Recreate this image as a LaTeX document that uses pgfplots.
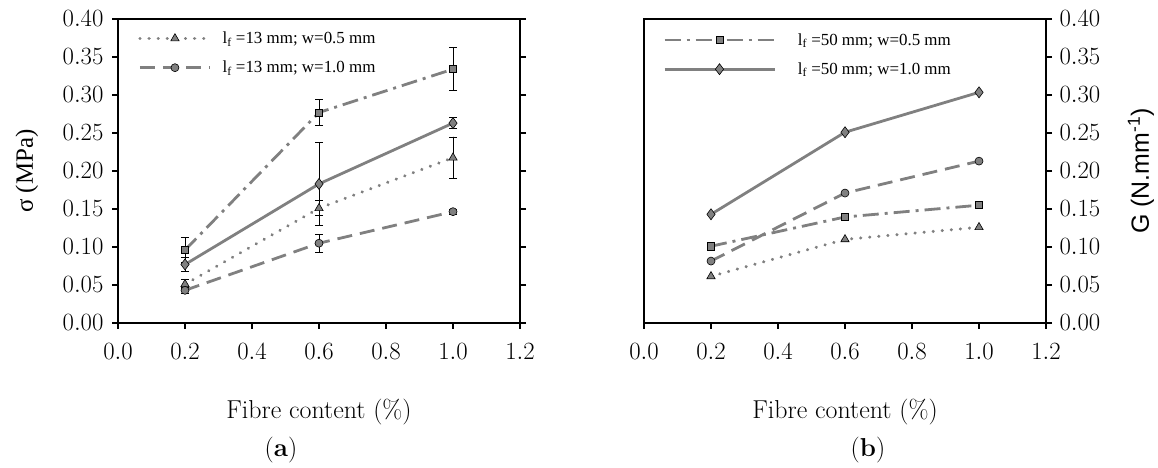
\documentclass[border=0pt]{standalone}
\usepackage{fontspec}
\usepackage{pgfplots}
\pgfplotsset{compat=1.18}
\newfontfamily\lsans{Liberation Sans}
\newfontfamily\lserif{Liberation Serif}
\definecolor{lg}{RGB}{128,128,128}
\definecolor{mk}{RGB}{128,128,128}

\pgfplotsset{
 base/.style={
  scale only axis, width=402bp, height=304bp,
  xmin=0, xmax=1.2, ymin=0, ymax=0.4,
  xtick={0,0.2,0.4,0.6,0.8,1.0,1.2},
  ytick={0,0.05,0.10,0.15,0.20,0.25,0.30,0.35,0.40},
  tick align=outside, major tick length=6bp,
  xtick pos=bottom,
  axis line style={line width=1.5bp},
  every tick/.style={black, line width=1.2bp},
  tick label style={font=\fontsize{23}{27}\selectfont},
  xticklabel style={yshift=-11bp, /pgf/number format/fixed, /pgf/number format/fixed zerofill, /pgf/number format/precision=1},
  yticklabel style={/pgf/number format/fixed, /pgf/number format/fixed zerofill, /pgf/number format/precision=2},
  scaled y ticks=false, scaled x ticks=false,
  xlabel style={at={(axis description cs:0.5,0)}, anchor=center, yshift=-89bp, font=\fontsize{26}{30}\selectfont},
  legend style={draw=none, fill=none, font=\lserif\fontsize{17}{20}\selectfont, anchor=north west, inner sep=0pt, row sep=12bp},
  legend cell align=left,
  clip=false,
 },
 ser/.style={line width=2.8bp, lg, mark options={solid, fill=mk, draw=black, line width=0.6bp}},
 sq/.style={ser, mark=square*, mark size=3.6bp, dash pattern=on 16bp off 6bp on 3bp off 6bp},
 dm/.style={ser, mark=diamond*, mark size=5.5bp, solid},
 ci/.style={ser, mark=*, mark size=4bp, dash pattern=on 15bp off 8bp},
 tr/.style={ser, line width=3.3bp, mark=triangle*, mark size=4.8bp, line cap=round, dash pattern=on 0.1bp off 9bp},
 eb/.style={error bars/.cd, y dir=both, y explicit,
   error bar style={black, line width=0.8bp, solid},
   error mark options={rotate=90, black, mark size=4bp, line width=0.8bp, solid}},
}

\begin{document}
\begin{tikzpicture}
\path[use as bounding box] (0,0) rectangle (1158bp,468bp);

% ---------- (a) ----------
\begin{axis}[base, at={(118bp,145bp)}, anchor=south west,
  xlabel={Fibre content (\%)},
  ylabel={\lserif σ (MPa)},
  yticklabel style={xshift=-5bp},
  ylabel style={at={(axis description cs:-0.2264,0.5)}, anchor=center, font=\fontsize{25}{29}\selectfont},
  legend style={at={(axis description cs:0.05,0.965)}},
  legend image code/.code={\draw[mark repeat=2,mark phase=2,#1] plot coordinates {(0bp,0bp)(35bp,0bp)(70bp,0bp)};},
]
\addplot[sq, forget plot, eb] coordinates {
 (0.2,0.096) +- (0,0.016)
 (0.6,0.277) +- (0,0.017)
 (1.0,0.334) +- (0,0.028)
};
\addplot[dm, forget plot, eb] coordinates {
 (0.2,0.077) +- (0,0.009)
 (0.6,0.183) +- (0,0.054)
 (1.0,0.263) +- (0,0.007)
};
\addplot[tr, eb] coordinates {
 (0.2,0.051) +- (0,0.006)
 (0.6,0.151) +- (0,0.010)
 (1.0,0.2175) +- (0,0.027)
};
\addlegendentry{\hspace{9bp}l\textsubscript{f} =13 mm; w=0.5 mm}
\addplot[ci, eb] coordinates {
 (0.2,0.043) +- (0,0.004)
 (0.6,0.105) +- (0,0.012)
 (1.0,0.1465) +- (0,0.003)
};
\addlegendentry{\hspace{9bp}l\textsubscript{f} =13 mm; w=1.0 mm}
\end{axis}
\node[font=\fontsize{26}{30}\selectfont] at (281bp,18bp) {(\textbf{a})};

% ---------- (b) ----------
\begin{axis}[base, at={(644bp,145bp)}, anchor=south west,
  xlabel={Fibre content (\%)},
  ylabel={\lsans G (N.mm\textsuperscript{-1})},
  ytick pos=right, yticklabel pos=right,
  yticklabel style={xshift=4bp},
  ylabel style={at={(axis description cs:1.2363,0.5)}, anchor=center, font=\fontsize{25}{29}\selectfont},
  legend style={at={(axis description cs:0.047,0.96)}},
  legend image code/.code={\draw[mark repeat=2,mark phase=2,#1] plot coordinates {(0bp,0bp)(55bp,0bp)(110bp,0bp)};},
]
\addplot[sq] coordinates {(0.2,0.101) (0.6,0.1395) (1.0,0.155)};
\addlegendentry{\hspace{20bp}l\textsubscript{f} =50 mm; w=0.5 mm}
\addplot[dm] coordinates {(0.2,0.143) (0.6,0.251) (1.0,0.3035)};
\addlegendentry{\hspace{20bp}l\textsubscript{f} =50 mm; w=1.0 mm}
\addplot[ci, forget plot] coordinates {(0.2,0.0815) (0.6,0.171) (1.0,0.213)};
\addplot[tr, forget plot] coordinates {(0.2,0.0614) (0.6,0.110) (1.0,0.126)};
\end{axis}
\node[font=\fontsize{26}{30}\selectfont] at (868bp,18bp) {(\textbf{b})};
\end{tikzpicture}
\end{document}
